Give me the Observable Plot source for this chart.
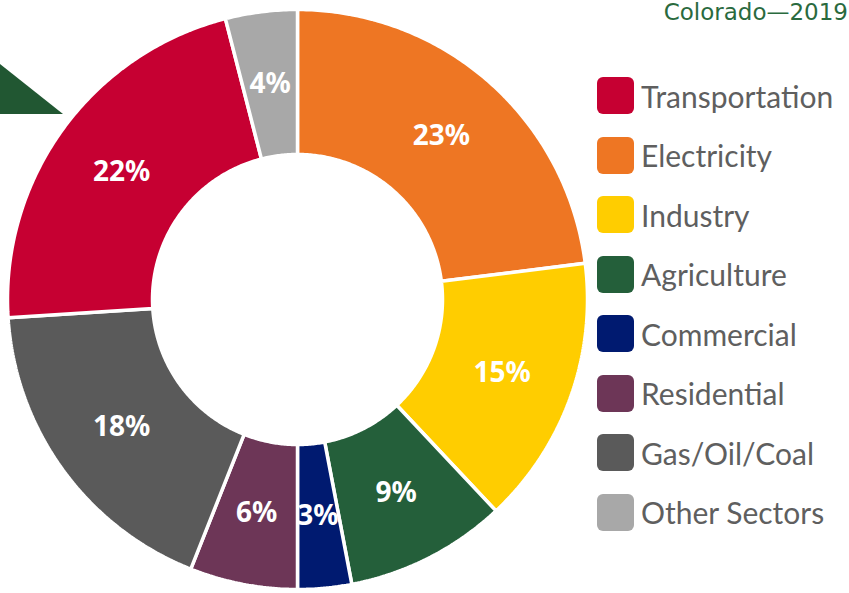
<!DOCTYPE html>
<html><head><meta charset="utf-8">
<script src="https://cdn.jsdelivr.net/npm/d3@7"></script>
<script src="https://cdn.jsdelivr.net/npm/@observablehq/plot@0.6"></script>
<style>
body{margin:0;background:#fff;}
#wrap{position:relative;width:849px;height:593px;overflow:hidden;background:#fff;}
#chart{position:absolute;left:0;top:0;}
#tri{position:absolute;left:0;top:64px;width:63px;height:50px;background:#215732;clip-path:polygon(0 0,100% 100%,0 100%);}
#title{position:absolute;right:1px;top:-1px;font:23px "DejaVu Sans";color:#2a6a3e;line-height:27px;white-space:nowrap;}
.row{position:absolute;left:597px;height:37px;display:flex;align-items:center;}
.sw{width:37px;height:37px;border-radius:6px;flex:none;}
.lab{margin-left:7px;font:30px "Lato";color:#5f5f5f;white-space:nowrap;position:relative;top:0px;}
</style></head><body>
<div id="wrap"><div id="chart"></div><div id="tri"></div><div id="title"></div><div id="legend"></div></div>
<script>
const title = "Colorado—2019";
const sectors = ["Electricity","Industry","Agriculture","Commercial","Residential","Gas/Oil/Coal","Transportation","Other Sectors"];
const shares = [23,15,9,3,6,18,22,4];
const legendOrder = ["Transportation","Electricity","Industry","Agriculture","Commercial","Residential","Gas/Oil/Coal","Other Sectors"];
const legendColors = ["#c60032","#ee7623","#ffcd00","#245f3a","#001a70","#6d3657","#5a5a5a","#a8a8a8"];

const data = sectors.map((s,i)=>({sector:s, share:shares[i]}));
const arcs = d3.pie().sort(null).value(d=>d.share)(data);
const R = 1, r0 = 0.5;
const poly = arcs.flatMap(a=>{
  const n = Math.max(8, Math.ceil((a.endAngle-a.startAngle)/0.01));
  const pts = [];
  for(let k=0;k<=n;k++){const t=a.startAngle+(a.endAngle-a.startAngle)*k/n;pts.push({sector:a.data.sector,x:R*Math.sin(t),y:R*Math.cos(t)});}
  for(let k=n;k>=0;k--){const t=a.startAngle+(a.endAngle-a.startAngle)*k/n;pts.push({sector:a.data.sector,x:r0*Math.sin(t),y:r0*Math.cos(t)});}
  pts.push({...pts[0]});
  return pts;
});
const labels = arcs.map(a=>{const m=(a.startAngle+a.endAngle)/2;return {x:0.75*Math.sin(m),y:0.75*Math.cos(m),text:a.data.share+"%"};});

const plot = Plot.plot({
  width:849, height:593, margin:0,
  style:{fontFamily:"Noto Sans", background:"transparent"},
  x:{domain:[-1,1], range:[7,587], axis:null},
  y:{domain:[-1,1], range:[589,9], axis:null},
  color:{domain:legendOrder, range:legendColors},
  marks:[
    Plot.line(poly,{x:"x",y:"y",z:"sector",fill:"sector",stroke:"white",strokeWidth:3.5,strokeLinejoin:"miter",curve:"linear"}),
    Plot.text(labels,{x:"x",y:"y",text:"text",fill:"white",fontSize:28,fontWeight:"bold",fontFamily:"Noto Sans"})
  ]
});
document.getElementById("chart").appendChild(plot);
document.getElementById("title").textContent = title;
const color = plot.scale("color");
const leg = document.getElementById("legend");
legendOrder.forEach((name,i)=>{
  const row=document.createElement("div");row.className="row";row.style.top=(77+i*59.5)+"px";
  const sw=document.createElement("div");sw.className="sw";sw.style.background=color.apply(name);
  const lab=document.createElement("div");lab.className="lab";lab.textContent=name;
  row.appendChild(sw);row.appendChild(lab);leg.appendChild(row);
});
</script>
</body></html>
